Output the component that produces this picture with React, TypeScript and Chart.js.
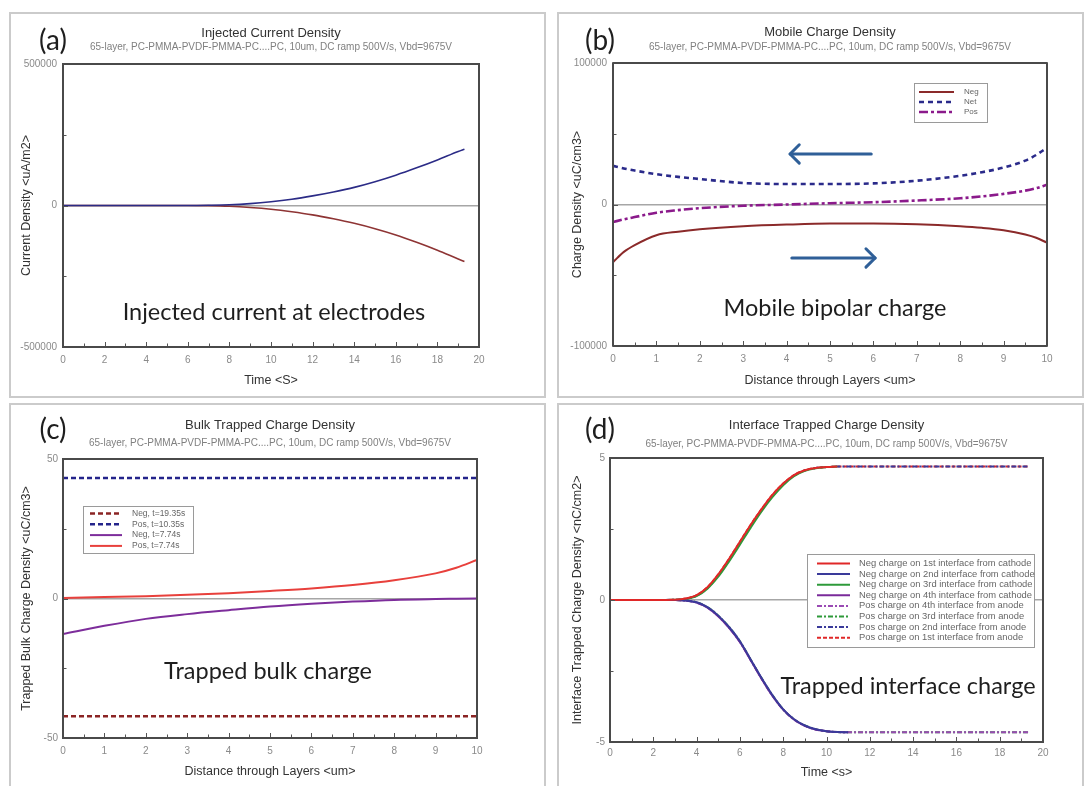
import React, { useEffect, useRef } from 'react';
import { Chart, registerables } from 'chart.js';

Chart.register(...registerables);

const FONT = "'Liberation Sans', Arial, Helvetica, sans-serif";
const NOTE_FONT = "Lato, 'Open Sans', sans-serif";
const SUBTITLE = '65-layer, PC-PMMA-PVDF-PMMA-PC....PC, 10um, DC ramp 500V/s, Vbd=9675V';

// ---------- (a) Injected current density ----------
const timeA = [0, 2, 4, 6, 7, 8, 9, 10, 11, 12, 13, 14, 15, 16, 17, 18, 19, 19.3];
const currentPosA = [0, 0, 0, 0, 800, 2500, 6500, 13000, 22000, 34000, 48000, 64000, 84000, 107000, 133000, 161000, 191000, 199000];
const currentNegA = [0, 0, 0, 0, -600, -2600, -6800, -13000, -22000, -33000, -47000, -63000, -82000, -104000, -130000, -158000, -189000, -198000];

// ---------- (b) Mobile charge density ----------
const distB = [0, 0.25, 0.5, 1, 1.5, 2, 3, 4, 5, 6, 7, 8, 8.5, 9, 9.5, 9.75, 10];
const negB = [-40800, -33500, -28700, -21700, -19200, -17500, -15400, -14200, -13500, -13500, -14000, -15400, -16500, -18200, -21200, -23500, -27000];
const netB = [27300, 25500, 24000, 21400, 19500, 18000, 15200, 14500, 14500, 14900, 16800, 20300, 22800, 26100, 31000, 35000, 40100];
const posB = [-12400, -10500, -8900, -5800, -4000, -2600, -900, 0, 900, 1600, 2800, 4400, 5700, 7500, 9800, 11500, 14000];
const arrowsB = [
  { from: [5.95, 35700], to: [4.08, 35700] },
  { from: [4.12, -37800], to: [6.04, -37800] },
];

// ---------- (c) Bulk trapped charge density ----------
const distC = [0, 1, 2, 3, 4, 5, 6, 7, 8, 9, 9.5, 10];
const flatDistC = [0, 10];
const negLateC = [-42.2, -42.2];
const posLateC = [43.2, 43.2];
const negC = [-12.7, -9.8, -7.3, -5.6, -4.2, -2.9, -1.9, -1.1, -0.5, -0.2, -0.1, 0];
const posC = [0.2, 0.5, 0.8, 1.3, 1.9, 2.7, 3.6, 4.8, 6.5, 9.0, 11.0, 13.8];

// ---------- (d) Interface trapped charge density ----------
const timeD = [0, 1, 2, 3, 3.5, 4, 4.5, 5, 5.5, 6, 6.5, 7, 7.5, 8, 8.5, 9, 9.5, 10, 10.5, 11, 12, 13, 14, 15, 16, 17, 18, 19, 19.35];
const neg1D = [0, 0, 0, 0.01, 0.05, 0.17, 0.45, 0.9, 1.45, 2.05, 2.65, 3.2, 3.7, 4.1, 4.4, 4.57, 4.65, 4.68, 4.7, null, null, null, null, null, null, null, null, null, null];
const neg3D = [0, 0, 0, 0.01, 0.04, 0.14, 0.4, 0.82, 1.36, 1.95, 2.55, 3.12, 3.62, 4.04, 4.36, 4.55, 4.64, 4.68, 4.7, null, null, null, null, null, null, null, null, null, null];
const neg2D = [0, 0, 0, 0, -0.02, -0.08, -0.25, -0.55, -0.95, -1.45, -2.1, -2.75, -3.35, -3.85, -4.2, -4.42, -4.55, -4.62, -4.65, -4.66, null, null, null, null, null, null, null, null, null];
const neg4D = [0, 0, 0, 0, -0.02, -0.09, -0.27, -0.57, -0.98, -1.48, -2.12, -2.77, -3.37, -3.86, -4.21, -4.43, -4.56, -4.62, -4.65, -4.66, null, null, null, null, null, null, null, null, null];
const pos4D = [0, 0, 0, 0, -0.02, -0.09, -0.27, -0.57, -0.98, -1.48, -2.12, -2.77, -3.37, -3.86, -4.21, -4.43, -4.56, -4.62, -4.65, -4.66, -4.66, -4.66, -4.66, -4.66, -4.66, -4.66, -4.66, -4.66, -4.66];
const pos3D = [0, 0, 0, 0, -0.02, -0.08, -0.25, -0.55, -0.95, -1.45, -2.1, -2.75, -3.35, -3.85, -4.2, -4.42, -4.55, -4.62, -4.65, -4.66, -4.66, -4.66, -4.66, -4.66, -4.66, -4.66, -4.66, -4.66, -4.66];
const pos2D = [0, 0, 0, 0.01, 0.04, 0.15, 0.42, 0.86, 1.4, 2.0, 2.6, 3.16, 3.66, 4.07, 4.38, 4.56, 4.65, 4.68, 4.7, 4.7, 4.7, 4.7, 4.7, 4.7, 4.7, 4.7, 4.7, 4.7, 4.7];
const pos1D = [0, 0, 0, 0.01, 0.05, 0.17, 0.45, 0.9, 1.45, 2.05, 2.65, 3.2, 3.7, 4.1, 4.4, 4.57, 4.65, 4.68, 4.7, 4.7, 4.7, 4.7, 4.7, 4.7, 4.7, 4.7, 4.7, 4.7, 4.7];

const pts = (xs: number[], ys: (number | null)[]) => xs.map((x, i) => ({ x, y: ys[i] }));

const line = (label: string, data: any[], color: string, width: number, dash: number[] = []) => ({
  label,
  data,
  borderColor: color,
  backgroundColor: color,
  borderWidth: width,
  borderDash: dash,
  pointRadius: 0,
  fill: false,
  cubicInterpolationMode: 'monotone',
});

type Spec = {
  id: string;
  box: [number, number, number, number];
  area: [number, number, number, number];
  titleY: number;
  subY: number;
  xLabelY: number;
  xTitleY: number;
  yTitleX: number;
  yGap: number;
  title: string;
  xTitle: string;
  yTitle: string;
  xr: [number, number, number, number];
  yr: [number, number, number, number];
  datasets: any[];
  legend?: { box: [number, number, number, number]; row0: number; rowGap: number; line: [number, number]; textX: number; size: number };
  arrows?: { from: number[]; to: number[] }[];
};

const specs: Spec[] = [
  {
    id: 'a',
    box: [10, 12, 535, 385],
    area: [63, 64, 479, 347],
    titleY: 33, subY: 46, xLabelY: 360, xTitleY: 381, yTitleX: 27, yGap: 6,
    title: 'Injected Current Density',
    xTitle: 'Time <S>',
    yTitle: 'Current Density <uA/m2>',
    xr: [0, 20, 1, 2],
    yr: [-500000, 500000, 250000, 500000],
    datasets: [
      line('Anode', pts(timeA, currentPosA), '#2b2b86', 1.6),
      line('Cathode', pts(timeA, currentNegA), '#8e3434', 1.6),
    ],
  },
  {
    id: 'b',
    box: [558, 12, 525, 385],
    area: [613, 63, 1047, 346],
    titleY: 32, subY: 47, xLabelY: 359, xTitleY: 381, yTitleX: 578, yGap: 6,
    title: 'Mobile Charge Density',
    xTitle: 'Distance through Layers <um>',
    yTitle: 'Charge Density <uC/cm3>',
    xr: [0, 10, 0.5, 1],
    yr: [-100000, 100000, 50000, 100000],
    datasets: [
      line('Neg', pts(distB, negB), '#8b2a2a', 2),
      line('Net', pts(distB, netB), '#2a2a8a', 2.6, [5, 4]),
      line('Pos', pts(distB, posB), '#8b1a8b', 2.6, [9, 3, 3, 3]),
    ],
    legend: { box: [914, 83, 987, 122], row0: 92, rowGap: 10, line: [919, 954], textX: 964, size: 8 },
    arrows: arrowsB,
  },
  {
    id: 'c',
    box: [10, 404, 535, 382],
    area: [63, 459, 477, 738],
    titleY: 425, subY: 443, xLabelY: 751, xTitleY: 772, yTitleX: 27, yGap: 5,
    title: 'Bulk Trapped Charge Density',
    xTitle: 'Distance through Layers <um>',
    yTitle: 'Trapped Bulk Charge Density <uC/cm3>',
    xr: [0, 10, 0.5, 1],
    yr: [-50, 50, 25, 50],
    datasets: [
      line('Neg, t=19.35s', pts(flatDistC, negLateC), '#8b2424', 2.5, [5, 3]),
      line('Pos, t=10.35s', pts(flatDistC, posLateC), '#24248b', 2.5, [5, 3]),
      line('Neg, t=7.74s', pts(distC, negC), '#7d2d9b', 2),
      line('Pos, t=7.74s', pts(distC, posC), '#e8403c', 2),
    ],
    legend: { box: [83, 506, 193, 553], row0: 513.5, rowGap: 10.8, line: [90, 122], textX: 132, size: 8.5 },
  },
  {
    id: 'd',
    box: [558, 404, 525, 382],
    area: [610, 458, 1043, 742],
    titleY: 425, subY: 444, xLabelY: 753, xTitleY: 773, yTitleX: 578, yGap: 5,
    title: 'Interface Trapped Charge Density',
    xTitle: 'Time <s>',
    yTitle: 'Interface Trapped Charge Density <nC/cm2>',
    xr: [0, 20, 1, 2],
    yr: [-5, 5, 2.5, 5],
    datasets: [
      line('Neg charge on 1st interface from cathode', pts(timeD, neg1D), '#e02828', 2),
      line('Neg charge on 2nd interface from cathode', pts(timeD, neg2D), '#3a3a9a', 2),
      line('Neg charge on 3rd interface from cathode', pts(timeD, neg3D), '#2e9a3a', 2),
      line('Neg charge on 4th interface from cathode', pts(timeD, neg4D), '#7a2a9a', 2),
      line('Pos charge on 4th interface from anode', pts(timeD, pos4D), '#9a4ab4', 2, [5, 2, 2, 2]),
      line('Pos charge on 3rd interface from anode', pts(timeD, pos3D), '#2e9a3a', 2, [5, 2, 2, 2]),
      line('Pos charge on 2nd interface from anode', pts(timeD, pos2D), '#3a3a9a', 2, [5, 2, 2, 2]),
      line('Pos charge on 1st interface from anode', pts(timeD, pos1D), '#e02828', 2, [4, 2]),
    ],
    legend: { box: [807, 554, 1034, 647], row0: 563.5, rowGap: 10.6, line: [817, 850], textX: 859, size: 9.4 },
  },
];

const notes = [
  { text: '(a)', x: 53, y: 39, size: 28 },
  { text: '(b)', x: 600, y: 39, size: 28 },
  { text: '(c)', x: 53, y: 428, size: 28 },
  { text: '(d)', x: 600, y: 428, size: 28 },
  { text: 'Injected current at electrodes', x: 274, y: 312, size: 23.5 },
  { text: 'Mobile bipolar charge', x: 835, y: 308, size: 23.5 },
  { text: 'Trapped bulk charge', x: 268, y: 671, size: 23.5 },
  { text: 'Trapped interface charge', x: 908, y: 686, size: 23.5 },
];

const panelBorders = [
  [9, 12, 537, 386],
  [557, 12, 527, 386],
  [9, 403, 537, 400],
  [557, 403, 527, 400],
];

function isMultiple(v: number, step: number) {
  const r = v / step;
  return Math.abs(r - Math.round(r)) < 1e-6;
}

function Panel({ s }: { s: Spec }) {
  const ref = useRef<HTMLCanvasElement | null>(null);
  useEffect(() => {
    if (!ref.current) return;
    const [bx, by, bw, bh] = s.box;
    const aL = s.area[0] - bx, aT = s.area[1] - by, aR = s.area[2] - bx, aB = s.area[3] - by;
    const TS = 13, SS = 10, AS = 12.5, KS = 10;
    const tLH = TS * 1.2, sLH = SS * 1.2, aLH = AS * 1.2, kLH = KS * 1.2;
    const tPadTop = s.titleY - by - tLH / 2;
    const tBottom = tPadTop + tLH;
    const sPadTop = Math.max(0, s.subY - by - sLH / 2 - tBottom);
    const sPadBottom = Math.max(0, aT - (tBottom + sPadTop + sLH));
    const xAxisH = bh - aB;
    const xTickPad = s.xLabelY - by - aB - kLH / 2;
    const xTitlePadBottom = bh - (s.xTitleY - by) - aLH / 2;
    const yTitlePadTop = s.yTitleX - bx - aLH / 2;

    const framePlugin = {
      id: 'frame_' + s.id,
      afterDatasetsDraw(chart: any) {
        const { ctx, chartArea: a, scales } = chart;
        const xs = scales.x, ys = scales.y;
        ctx.save();
        ctx.strokeStyle = '#555';
        ctx.lineWidth = 1;
        xs.ticks.forEach((t: any) => {
          const px = Math.round(xs.getPixelForValue(t.value)) + 0.5;
          const len = t.label ? 5 : 3.5;
          ctx.beginPath();
          ctx.moveTo(px, a.bottom);
          ctx.lineTo(px, a.bottom - len);
          ctx.stroke();
        });
        ys.ticks.forEach((t: any) => {
          const py = Math.round(ys.getPixelForValue(t.value)) + 0.5;
          const len = t.label ? 5 : 3.5;
          ctx.beginPath();
          ctx.moveTo(a.left, py);
          ctx.lineTo(a.left + len, py);
          ctx.stroke();
        });
        if (s.arrows) {
          ctx.strokeStyle = '#2f5f98';
          ctx.lineWidth = 3;
          ctx.lineCap = 'round';
          ctx.lineJoin = 'round';
          s.arrows.forEach((ar) => {
            const x1 = xs.getPixelForValue(ar.from[0]), y1 = ys.getPixelForValue(ar.from[1]);
            const x2 = xs.getPixelForValue(ar.to[0]), y2 = ys.getPixelForValue(ar.to[1]);
            ctx.beginPath();
            ctx.moveTo(x1, y1);
            ctx.lineTo(x2, y2);
            ctx.stroke();
            const ang = Math.atan2(y2 - y1, x2 - x1);
            const L = 13, sp = Math.PI / 4;
            ctx.beginPath();
            ctx.moveTo(x2 - L * Math.cos(ang - sp), y2 - L * Math.sin(ang - sp));
            ctx.lineTo(x2, y2);
            ctx.lineTo(x2 - L * Math.cos(ang + sp), y2 - L * Math.sin(ang + sp));
            ctx.stroke();
          });
        }
        ctx.strokeStyle = '#4a4a4a';
        ctx.lineWidth = 2;
        ctx.lineCap = 'butt';
        ctx.strokeRect(a.left, a.top, a.right - a.left, a.bottom - a.top);
        ctx.restore();
      },
      afterDraw(chart: any) {
        const lg = s.legend;
        if (!lg) return;
        const { ctx } = chart;
        const [x1, y1, x2, y2] = lg.box;
        ctx.save();
        ctx.fillStyle = '#ffffff';
        ctx.fillRect(x1 - bx, y1 - by, x2 - x1, y2 - y1);
        ctx.strokeStyle = '#9a9a9a';
        ctx.lineWidth = 1;
        ctx.strokeRect(x1 - bx + 0.5, y1 - by + 0.5, x2 - x1, y2 - y1);
        ctx.font = `${lg.size}px ${FONT}`;
        ctx.textBaseline = 'middle';
        ctx.textAlign = 'left';
        chart.data.datasets.forEach((ds: any, i: number) => {
          const yy = lg.row0 + i * lg.rowGap - by;
          ctx.save();
          ctx.strokeStyle = ds.borderColor;
          ctx.lineWidth = ds.borderWidth;
          ctx.setLineDash(ds.borderDash || []);
          ctx.beginPath();
          ctx.moveTo(lg.line[0] - bx, yy);
          ctx.lineTo(lg.line[1] - bx, yy);
          ctx.stroke();
          ctx.restore();
          ctx.fillStyle = '#666';
          ctx.fillText(ds.label, lg.textX - bx, yy);
        });
        ctx.restore();
      },
    };

    const chart = new Chart(ref.current, {
      type: 'line',
      data: { datasets: s.datasets },
      plugins: [framePlugin],
      options: {
        responsive: false,
        animation: false,
        events: [],
        layout: { padding: { top: 0, left: 0, bottom: 0, right: bw - aR } },
        plugins: {
          legend: { display: false },
          tooltip: { enabled: false },
          title: {
            display: true,
            text: s.title,
            fullSize: false,
            color: '#333',
            font: { family: FONT, size: TS, weight: 'normal' },
            padding: { top: tPadTop, bottom: 0 },
          },
          subtitle: {
            display: true,
            text: SUBTITLE,
            fullSize: false,
            color: '#808080',
            font: { family: FONT, size: SS, weight: 'normal' },
            padding: { top: sPadTop, bottom: sPadBottom },
          },
        },
        scales: {
          x: {
            type: 'linear',
            min: s.xr[0],
            max: s.xr[1],
            grid: { display: false, drawTicks: false },
            border: { display: false },
            ticks: {
              stepSize: s.xr[2],
              autoSkip: false,
              maxRotation: 0,
              minRotation: 0,
              padding: xTickPad,
              color: '#8a8a8a',
              font: { family: FONT, size: KS },
              callback: (v: any) => (isMultiple(Number(v), s.xr[3]) ? String(Number(v)) : ''),
            },
            title: {
              display: true,
              text: s.xTitle,
              color: '#333',
              font: { family: FONT, size: AS },
              padding: { top: 0, bottom: xTitlePadBottom },
            },
            afterFit: (sc: any) => {
              sc.height = xAxisH;
            },
          },
          y: {
            type: 'linear',
            min: s.yr[0],
            max: s.yr[1],
            grid: {
              drawTicks: false,
              lineWidth: 1.5,
              color: (c: any) => (c.tick && c.tick.value === 0 ? '#a6a6a6' : 'rgba(0,0,0,0)'),
            },
            border: { display: false },
            ticks: {
              stepSize: s.yr[2],
              autoSkip: false,
              padding: s.yGap,
              color: '#8a8a8a',
              font: { family: FONT, size: KS },
              callback: (v: any) => (isMultiple(Number(v), s.yr[3]) ? String(Number(v)) : ''),
            },
            title: {
              display: true,
              text: s.yTitle,
              color: '#333',
              font: { family: FONT, size: AS },
              padding: { top: yTitlePadTop, bottom: 0 },
            },
            afterFit: (sc: any) => {
              sc.width = aL;
            },
          },
        },
      } as any,
    });
    return () => chart.destroy();
  }, [s]);
  const [bx, by, bw, bh] = s.box;
  return (
    <canvas
      ref={ref}
      width={bw}
      height={bh}
      style={{ position: 'absolute', left: bx, top: by, width: bw, height: bh }}
    />
  );
}

export default function App() {
  return (
    <div
      style={{
        position: 'fixed',
        left: 0,
        top: 0,
        width: 1086,
        height: 786,
        background: '#ffffff',
        overflow: 'hidden',
      }}
    >
      {panelBorders.map(([x, y, w, h], i) => (
        <div
          key={'b' + i}
          style={{
            position: 'absolute',
            left: x,
            top: y,
            width: w,
            height: h,
            boxSizing: 'border-box',
            border: '2px solid #cbcbcb',
          }}
        />
      ))}
      {specs.map((s) => (
        <Panel key={s.id} s={s} />
      ))}
      {notes.map((n, i) => (
        <div
          key={'n' + i}
          style={{
            position: 'absolute',
            left: n.x,
            top: n.y,
            transform: 'translate(-50%, -50%)',
            fontFamily: NOTE_FONT,
            fontSize: n.size,
            lineHeight: 1,
            color: '#1e1e1e',
            whiteSpace: 'nowrap',
            pointerEvents: 'none',
          }}
        >
          {n.text}
        </div>
      ))}
    </div>
  );
}
